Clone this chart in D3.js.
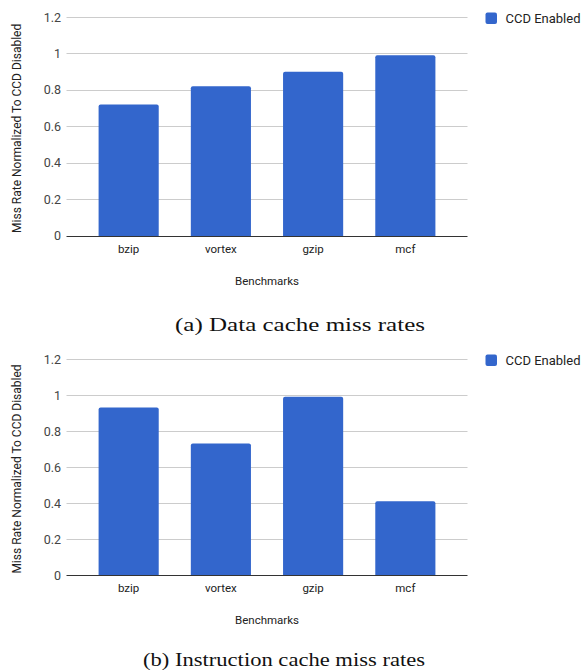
<!DOCTYPE html>
<html>
<head>
<meta charset="utf-8">
<script src="https://cdn.jsdelivr.net/npm/d3@7"></script>
<style>
  html, body { margin: 0; padding: 0; background: #fff; }
  svg { display: block; }
</style>
</head>
<body>
<svg id="chart" width="582" height="672"></svg>
<script>
const categories = ["bzip", "vortex", "gzip", "mcf"];
const dataCacheValues = [0.72, 0.82, 0.90, 0.99];
const instrCacheValues = [0.93, 0.73, 0.99, 0.41];
const yTicks = [0, 0.2, 0.4, 0.6, 0.8, 1, 1.2];
const tickLabels = ["0", "0.2", "0.4", "0.6", "0.8", "1", "1.2"];
const seriesName = "CCD Enabled";
const xTitle = "Benchmarks";
const yTitle = "Miss Rate Normalized To CCD Disabled";
const captions = ["(a) Data cache miss rates", "(b) Instruction cache miss rates"];

const svg = d3.select("#chart");
const barColor = "#3366cc";
const font = "Roboto, 'Noto Sans', sans-serif";

function drawPanel(values, top, bottom, caption, captionX, captionY, captionW) {
  const g = svg.append("g");
  const left = 66.5, right = 467.5;
  const x = d3.scaleBand().domain(categories).range([left, right])
    .paddingInner(0.348).paddingOuter(0.348);
  const y = d3.scaleLinear().domain([0, 1.2]).range([bottom, top]);

  // gridlines
  g.selectAll("line.grid").data(yTicks.filter(t => t > 0)).enter().append("line")
    .attr("x1", left).attr("x2", right)
    .attr("y1", d => Math.round(y(d)) + 0.5).attr("y2", d => Math.round(y(d)) + 0.5)
    .attr("stroke", "#cccccc").attr("stroke-width", 1);

  // y tick labels
  g.selectAll("text.ytick").data(yTicks).enter().append("text")
    .attr("x", 61).attr("y", d => y(d) + 4.5)
    .attr("text-anchor", "end")
    .style("font-family", font).style("font-size", "12.5px").attr("fill", "#444")
    .text((d, i) => tickLabels[i]);

  // bars
  g.selectAll("rect.bar").data(values).enter().append("rect")
    .attr("x", (d, i) => x(categories[i]))
    .attr("width", x.bandwidth())
    .attr("y", d => y(d))
    .attr("height", d => y(0) - y(d) + 2)
    .attr("rx", 2).attr("ry", 2)
    .attr("fill", barColor);

  // hide the rounded bottom of bars below the baseline
  g.append("rect").attr("x", left).attr("y", bottom + 0.5).attr("width", right - left).attr("height", 3).attr("fill", "#fff");

  // baseline
  g.append("line").attr("x1", left).attr("x2", right)
    .attr("y1", Math.round(bottom) + 0.5).attr("y2", Math.round(bottom) + 0.5)
    .attr("stroke", "#333333").attr("stroke-width", 1);

  // x tick labels
  g.selectAll("text.xtick").data(categories).enter().append("text")
    .attr("x", d => x(d) + x.bandwidth() / 2).attr("y", bottom + 17)
    .attr("text-anchor", "middle")
    .style("font-family", font).style("font-size", "11.5px").attr("fill", "#222")
    .text(d => d);

  // x title
  g.append("text").attr("x", (left + right) / 2).attr("y", bottom + 49)
    .attr("text-anchor", "middle")
    .style("font-family", font).style("font-size", "11.5px").attr("fill", "#222")
    .text(xTitle);

  // y title
  g.append("text")
    .attr("transform", `translate(21, ${(top + bottom) / 2 + 2}) rotate(-90)`)
    .attr("text-anchor", "middle")
    .style("font-family", font).style("font-size", "12px").attr("fill", "#222")
    .text(yTitle);

  // legend
  g.append("rect").attr("x", 485.5).attr("y", top - 4.5).attr("width", 11.5).attr("height", 11.5)
    .attr("rx", 2).attr("fill", barColor);
  g.append("text").attr("x", 505.5).attr("y", top + 5.5)
    .style("font-family", font).style("font-size", "13px").attr("fill", "#222")
    .text(seriesName);

  // caption
  g.append("text").attr("x", captionX).attr("y", captionY)
    .attr("text-anchor", "middle")
    .attr("textLength", captionW).attr("lengthAdjust", "spacingAndGlyphs")
    .style("font-family", "'Liberation Serif', 'DejaVu Serif', serif").style("font-size", "18.5px").attr("fill", "#111")
    .text(caption);
}

drawPanel(dataCacheValues, 17, 235.7, captions[0], 300, 331, 250);
drawPanel(instrCacheValues, 359, 575, captions[1], 284, 666, 282);
</script>
</body>
</html>
